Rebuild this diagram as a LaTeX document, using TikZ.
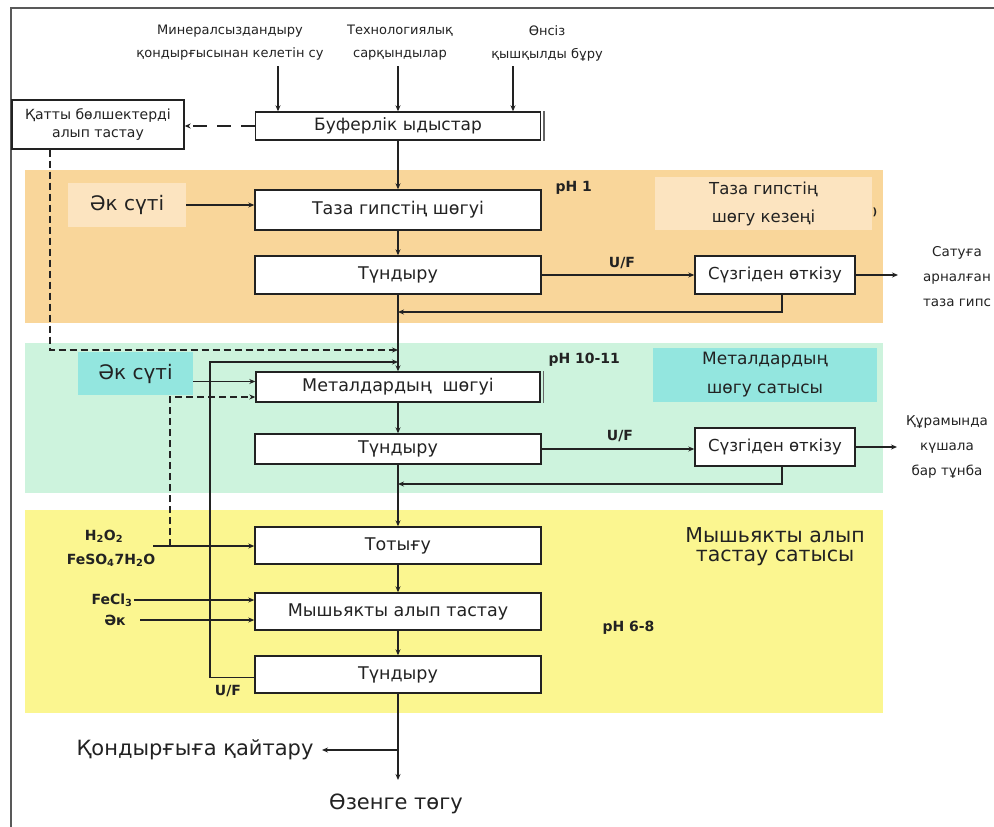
\documentclass[tikz,border=0pt]{standalone}
\usepackage{fontspec}
\setmainfont{DejaVu Sans}
\usetikzlibrary{arrows.meta,calc}
\definecolor{orangebg}{HTML}{F9D69A}
\definecolor{orangelt}{HTML}{FCE4C0}
\definecolor{greenbg}{HTML}{CDF3DD}
\definecolor{cyanlt}{HTML}{93E6DF}
\definecolor{yellowbg}{HTML}{FBF690}
\definecolor{ink}{HTML}{222222}
\begin{document}
\begin{tikzpicture}[x=1pt,y=-1pt,
  pbox/.style={draw=ink, line width=1.4pt, fill=white, inner sep=0pt, text=ink, font=\fontsize{17.5}{20}\selectfont},
  toptxt/.style={align=center, text=ink, font=\fontsize{13}{23}\selectfont},
  rtxt/.style={align=center, text=ink, font=\fontsize{13.5}{25}\selectfont},
  bigtxt/.style={text=ink, font=\fontsize{21}{24}\selectfont},
  chem/.style={text=ink, inner sep=1pt, font=\bfseries\fontsize{14}{16}\selectfont},
  phtxt/.style={text=ink, font=\bfseries\fontsize{14}{16}\selectfont},
  flow/.style={draw=ink, line width=1.4pt, -{Stealth[length=6pt,width=5pt]}},
  mainflow/.style={flow, line width=1.8pt},
  dashflow/.style={draw=ink, line width=1.8pt, dash pattern=on 7pt off 4pt, -{Stealth[length=6pt,width=5pt]}},
  shade/.style={draw=ink!70, line width=1.2pt}
]
\useasboundingbox (0,0) rectangle (994,827);
\fill[white] (0,0) rectangle (994,827);
% frame
\draw[line width=2.5pt, ink!75] (11,827) -- (11,8) -- (994,8);
% bands
\fill[orangebg] (25,170) rectangle (883,323);
\fill[greenbg] (25,343) rectangle (883,493);
\fill[yellowbg] (25,510) rectangle (883,713);

% top sources
\node[toptxt] (srcA) at (230,43) {Минералсыздандыру\\қондырғысынан келетін су};
\node[toptxt] (srcB) at (400,43) {Технологиялық\\сарқындылар};
\node[toptxt] (srcC) at (547,43) {Өнсіз\\қышқылды бұру};
\coordinate (inA) at (278,66);
\coordinate (inB) at (398,66);
\coordinate (inC) at (513,66);

% boxes
\node[pbox, minimum width=285, minimum height=28, font=\fontsize{17}{19}\selectfont] (buf) at (398,126) {Буферлік ыдыстар};
\node[pbox, minimum width=172, minimum height=49, align=center, font=\fontsize{14}{18}\selectfont] (qat) at (98,124.5) {Қатты бөлшектерді\\алып тастау};
\node[pbox, minimum width=286, minimum height=40] (taza) at (398,210) {Таза гипстің шөгуі};
\node[pbox, minimum width=286, minimum height=38] (tun1) at (398,275) {Түндыру};
\node[pbox, minimum width=160, minimum height=38, font=\fontsize{16.5}{19}\selectfont] (suz1) at (775,275) {Сүзгіден өткізу};
\node[pbox, minimum width=284, minimum height=30] (met) at (398,387) {Металдардың\ \ шөгуі};
\node[pbox, minimum width=286, minimum height=30] (tun2) at (398,449) {Түндыру};
\node[pbox, minimum width=160, minimum height=38, font=\fontsize{16.5}{19}\selectfont] (suz2) at (775,447) {Сүзгіден өткізу};
\node[pbox, minimum width=286, minimum height=37] (tot) at (398,545.5) {Тотығу};
\node[pbox, minimum width=286, minimum height=37] (mysh) at (398,611.5) {Мышьякты алып тастау};
\node[pbox, minimum width=286, minimum height=37] (tun3) at (398,674.5) {Түндыру};
\draw[shade] ([xshift=2.8pt]buf.north east) -- ([xshift=2.8pt]buf.south east);
\draw[shade] ([xshift=2.8pt]met.north east) -- ([xshift=2.8pt]met.south east);

% patches and labels
\node[fill=orangelt, minimum width=118, minimum height=44, inner sep=0pt, text=ink, font=\fontsize{20}{22}\selectfont] (ak1) at (127,205) {Әк сүті};
\node[fill=orangelt, minimum width=217, minimum height=53, inner sep=0pt, align=center, text=ink, font=\fontsize{16.5}{28}\selectfont] (tz) at (763.5,203.5) {Таза гипстің\\шөгу кезеңі};
\node[text=ink, font=\bfseries\fontsize{10}{12}\selectfont] (brk) at (875,212) {)};
\node[fill=cyanlt, minimum width=115, minimum height=43, inner sep=0pt, text=ink, font=\fontsize{20}{22}\selectfont] (ak2) at (135.5,373.5) {Әк сүті};
\node[fill=cyanlt, minimum width=224, minimum height=54, inner sep=0pt, align=center, text=ink, font=\fontsize{17}{29}\selectfont] (ms) at (765,375) {Металдардың\\шөгу сатысы};
\node[phtxt, anchor=west] (ph1) at (552,188) {pH 1};
\node[phtxt, anchor=west] (ph2) at (545,360) {pH 10-11};
\node[phtxt, anchor=west] (ph3) at (599,628) {pH 6-8};
\node[phtxt] (uf1) at (622,263) {U/F};
\node[phtxt] (uf2) at (620,436) {U/F};
\node[phtxt] (uf3) at (228,691) {U/F};
\node[rtxt] (prod1) at (957,277) {Сатуға\\арналған\\таза гипс};
\node[rtxt] (prod2) at (947,447) {Құрамында\\күшала\\бар тұнба};
\node[align=center, text=ink, font=\fontsize{20.5}{19}\selectfont] (stg) at (775,547) {Мышьякты алып\\тастау сатысы};
\node[chem] (h2o2) at (104,536) {H\textsubscript{2}O\textsubscript{2}};
\node[chem] (feso) at (111,560) {FeSO\textsubscript{4}7H\textsubscript{2}O};
\node[chem] (fecl) at (112,600) {FeCl\textsubscript{3}};
\node[chem] (ak3) at (115,620) {Әк};
\node[bigtxt] (ret) at (195,750) {Қондырғыға қайтару};
\node[bigtxt] (riv) at (396,804) {Өзенге төгу};

% coordinates on main line
\coordinate (j1) at (398,312);
\coordinate (j2) at (398,350);
\coordinate (j3) at (398,362);
\coordinate (j4) at (398,484);
\coordinate (jb) at (398,750);
\coordinate (outR) at (398,780);
\coordinate (out1) at (898,275);
\coordinate (out2) at (897,447);
\coordinate (fsa) at (153,546);
\coordinate (dq) at (170,546);
\coordinate (aks) at (140,620);

% inputs
\draw[flow] (inA) -- (inA |- buf.north);
\draw[mainflow] (inB) -- (inB |- buf.north);
\draw[flow] (inC) -- (inC |- buf.north);
\draw[dashflow, dash pattern=on 14pt off 10pt] (buf.west) -- (buf.west -| qat.east);
\draw[dashflow] (qat.south -| 50,0) -- (50,350) -- (j2);

% main line
\draw[mainflow] (buf.south) -- (taza.north);
\draw[mainflow] (taza.south) -- (tun1.north);
\draw[mainflow] (tun1.south) -- (met.north);
\draw[mainflow] (met.south) -- (tun2.north);
\draw[mainflow] (tun2.south) -- (tot.north);
\draw[mainflow] (tot.south) -- (mysh.north);
\draw[mainflow] (mysh.south) -- (tun3.north);
\draw[mainflow] (tun3.south) -- (outR);
\draw[flow] (jb) -- ([xshift=5pt]ret.east);

% stage 1
\draw[flow] (ak1.east) -- (ak1.east -| taza.west);
\draw[flow] (tun1.east) -- (tun1.east -| suz1.west);
\draw[flow] (suz1.east) -- (out1);
\draw[flow] (suz1.south -| 782,0) -- (782,312) -- (j1);

% stage 2
\draw[flow] ([yshift=-8pt]ak2.east) -- ([yshift=-8pt]ak2.east -| met.west);
\draw[dashflow] (dq) |- ([yshift=-10pt]met.west);
\draw[flow] ([yshift=-3pt]tun3.west) -| (210,362) -- (j3);
\draw[flow] (tun2.east) -- (tun2.east -| suz2.west);
\draw[flow] (suz2.east) -- (out2);
\draw[flow] (suz2.south -| 782,0) -- (782,484) -- (j4);

% stage 3
\draw[flow] (fsa) -- (fsa -| tot.west);
\draw[flow] (fecl.east) -- (fecl.east -| mysh.west);
\draw[flow] (aks) -- (aks -| mysh.west);
\end{tikzpicture}
\end{document}
